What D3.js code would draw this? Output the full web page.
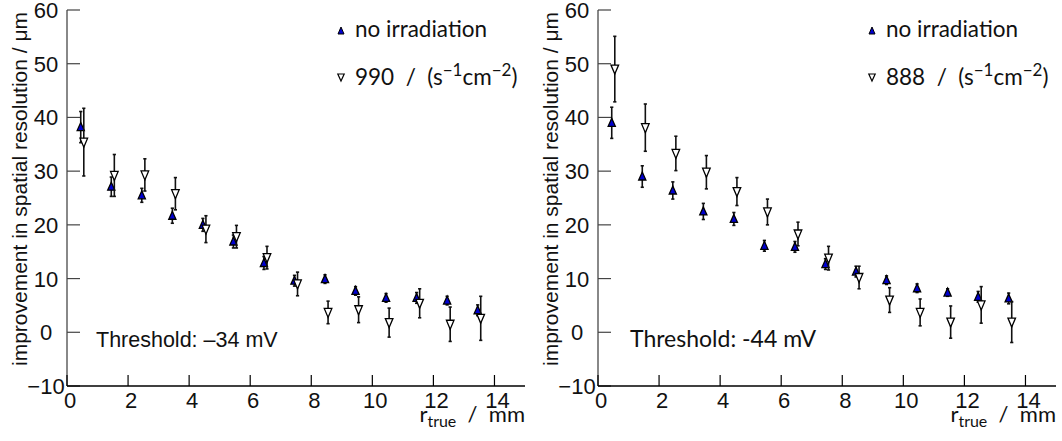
<!DOCTYPE html>
<html lang="en">
<head>
  <meta charset="UTF-8">
  <style>
    body { margin: 0; background: #fff; }
    svg { display: block; }
    .tick-label { font-family: "Liberation Sans", Arial, sans-serif; font-size: 22px; fill: #111; }
    .cm { font-family: Lato, sans-serif; fill: #111; }
  </style>
</head>
<body>
  <svg class="chart"></svg>
  <script src="https://cdnjs.cloudflare.com/ajax/libs/d3/7.8.5/d3.min.js"></script>
  <script>
    // radial bins (mm)
    const rTrue = [0.5, 1.5, 2.5, 3.5, 4.5, 5.5, 6.5, 7.5, 8.5, 9.5, 10.5, 11.5, 12.5, 13.5]

    // left panel, threshold -34 mV
    const leftNoIrr    = [38.2, 27.1, 25.5, 21.7, 20.0, 16.9, 12.9, 9.6, 9.9, 7.7, 6.4, 6.4, 5.9, 4.1]
    const leftNoIrrErr = [2.9, 1.8, 1.3, 1.4, 1.2, 1.2, 1.2, 1.0, 0.8, 0.8, 0.8, 1.0, 0.8, 1.0]
    const leftIrr      = [35.4, 29.2, 29.3, 25.8, 19.2, 17.8, 13.9, 9.0, 3.7, 4.2, 1.8, 5.4, 1.5, 2.6]
    const leftIrrErr   = [6.3, 3.9, 3.0, 3.0, 2.5, 2.1, 2.1, 2.2, 2.1, 2.4, 2.7, 2.7, 3.2, 4.1]

    // right panel, threshold -44 mV
    const rightNoIrr    = [39.0, 29.0, 26.4, 22.5, 21.1, 16.1, 15.9, 12.7, 11.3, 9.7, 8.2, 7.4, 6.6, 6.3]
    const rightNoIrrErr = [2.9, 2.0, 1.6, 1.5, 1.2, 1.0, 1.0, 1.0, 1.0, 0.8, 0.8, 0.7, 1.0, 1.0]
    const rightIrr      = [49.0, 38.1, 33.3, 29.8, 26.2, 22.4, 18.3, 13.8, 10.2, 6.0, 3.7, 1.9, 5.1, 1.9]
    const rightIrrErr   = [6.1, 4.4, 3.2, 3.1, 2.6, 2.4, 2.2, 2.2, 2.1, 2.3, 2.5, 3.0, 3.4, 3.8]

    const xTicks = [0, 2, 4, 6, 8, 10, 12, 14]
    const yTicks = [-10, 0, 10, 20, 30, 40, 50, 60]
    const yLabel = 'improvement in spatial resolution / \u03bcm'

    const svg = d3.select('.chart')
      .attr('width', 1062)
      .attr('height', 441)

    const upTri = 'M0,-4.5L3.6,3.5L-3.6,3.5Z'
    const downTri = 'M0,5L3.8,-4L-3.8,-4Z'
    const sp = '\u00a0'

    function drawPanel(p) {
      const g = svg.append('g')

      const x = d3.scaleLinear().domain([0, 15]).range([p.left, p.left + 458])
      const y = d3.scaleLinear().domain([-10, 60]).range([386, 10])

      // y axis (grey)
      g.append('line')
        .attr('x1', p.left).attr('x2', p.left)
        .attr('y1', y(60)).attr('y2', y(-10))
        .attr('stroke', '#888').attr('stroke-width', 2)
      g.selectAll('.ytick').data(yTicks).enter().append('line')
        .attr('x1', p.left).attr('x2', p.left + 13)
        .attr('y1', d => y(d)).attr('y2', d => y(d))
        .attr('stroke', '#444').attr('stroke-width', 1.2)
      g.selectAll('.ylab').data(yTicks).enter().append('text')
        .attr('class', 'tick-label')
        .attr('x', p.left - 21)
        .attr('y', d => y(d) + 8)
        .attr('text-anchor', 'middle')
        .text(d => d < 0 ? '\u2212' + Math.abs(d) : d)

      // x axis (black)
      g.append('line')
        .attr('x1', p.left).attr('x2', x(15))
        .attr('y1', y(-10)).attr('y2', y(-10))
        .attr('stroke', '#000').attr('stroke-width', 1.5)
      g.selectAll('.xtick').data(xTicks).enter().append('line')
        .attr('x1', d => x(d)).attr('x2', d => x(d))
        .attr('y1', y(-10)).attr('y2', y(-10) - 11)
        .attr('stroke', '#000').attr('stroke-width', 1.2)
      g.selectAll('.xlab').data(xTicks).enter().append('text')
        .attr('class', 'tick-label')
        .attr('x', d => x(d) + 3)
        .attr('y', 408)
        .attr('text-anchor', 'middle')
        .text(d => d)

      // axis titles
      g.append('text')
        .attr('class', 'tick-label')
        .style('font-size', '21px')
        .attr('transform', `translate(${p.left - 46},189) rotate(-90)`)
        .attr('text-anchor', 'middle')
        .attr('dominant-baseline', 'middle')
        .text(yLabel)

      const xt = g.append('text').attr('class', 'cm')
        .attr('x', x(15)).attr('y', 422)
        .attr('text-anchor', 'end')
        .style('font-size', '22px')
      xt.append('tspan').text('r')
      xt.append('tspan').attr('dy', 5).style('font-size', '16px').text('true')
      xt.append('tspan').attr('dy', -5).text(sp + sp + '/' + sp + sp + 'mm')

      // threshold annotation
      g.append('text')
        .attr('class', p.threshFont)
        .attr('x', p.left + p.threshDx).attr('y', 347)
        .style('font-size', p.threshSize)
        .text(p.threshold)

      // series: filled first, open on top
      const series = [
        { vals: p.noIrr, errs: p.noIrrErr, dx: -0.05, path: upTri, fill: '#0000d0' },
        { vals: p.irr, errs: p.irrErr, dx: 0.05, path: downTri, fill: '#fff' }
      ]
      series.forEach(s => {
        const pts = rTrue.map((r, i) => ({ r: r + s.dx, v: s.vals[i], e: s.errs[i] }))
        const eb = g.append('g').attr('stroke', '#111').attr('stroke-width', 1.6)
        eb.selectAll('.bar').data(pts).enter().append('line')
          .attr('x1', d => x(d.r)).attr('x2', d => x(d.r))
          .attr('y1', d => y(d.v + d.e)).attr('y2', d => y(d.v - d.e))
        eb.selectAll('.cap1').data(pts).enter().append('line')
          .attr('x1', d => x(d.r) - 1.6).attr('x2', d => x(d.r) + 1.6)
          .attr('y1', d => y(d.v + d.e)).attr('y2', d => y(d.v + d.e))
        eb.selectAll('.cap2').data(pts).enter().append('line')
          .attr('x1', d => x(d.r) - 1.6).attr('x2', d => x(d.r) + 1.6)
          .attr('y1', d => y(d.v - d.e)).attr('y2', d => y(d.v - d.e))
        g.selectAll(null).data(pts).enter().append('path')
          .attr('d', s.path)
          .attr('transform', d => `translate(${x(d.r)},${y(d.v)})`)
          .attr('fill', s.fill)
          .attr('stroke', '#000')
          .attr('stroke-width', 1.3)
      })

      // legend
      const lx = p.left + p.legendDx
      g.append('path').attr('d', 'M0,-4L3,3L-3,3Z')
        .attr('transform', `translate(${lx},31)`)
        .attr('fill', '#0000d0').attr('stroke', '#000').attr('stroke-width', 1)
      g.append('text').attr('class', 'cm')
        .attr('x', lx + 14).attr('y', 37)
        .style('font-size', '22.5px')
        .text('no irradiation')
      g.append('path').attr('d', 'M0,4L3.2,-3L-3.2,-3Z')
        .attr('transform', `translate(${lx},77)`)
        .attr('fill', '#fff').attr('stroke', '#000').attr('stroke-width', 1.2)
      const lt = g.append('text').attr('class', 'cm')
        .attr('x', lx + 14).attr('y', 85)
        .style('font-size', '22.5px')
      lt.append('tspan').text(p.rate + sp + sp + '/' + sp + sp + '(s')
      lt.append('tspan').attr('dy', -9).style('font-size', '17px').text('\u22121')
      lt.append('tspan').attr('dy', 9).text('cm')
      lt.append('tspan').attr('dy', -9).style('font-size', '17px').text('\u22122')
      lt.append('tspan').attr('dy', 9).text(')')
    }

    drawPanel({
      left: 67, noIrr: leftNoIrr, noIrrErr: leftNoIrrErr, irr: leftIrr, irrErr: leftIrrErr,
      threshold: 'Threshold: \u201334 mV', threshFont: 'tick-label', threshSize: '21.5px', threshDx: 29,
      rate: '990', legendDx: 274
    })
    drawPanel({
      left: 598, noIrr: rightNoIrr, noIrrErr: rightNoIrrErr, irr: rightIrr, irrErr: rightIrrErr,
      threshold: 'Threshold: -44 mV', threshFont: 'cm', threshSize: '23px', threshDx: 32,
      rate: '888', legendDx: 274
    })
  </script>
</body>
</html>
